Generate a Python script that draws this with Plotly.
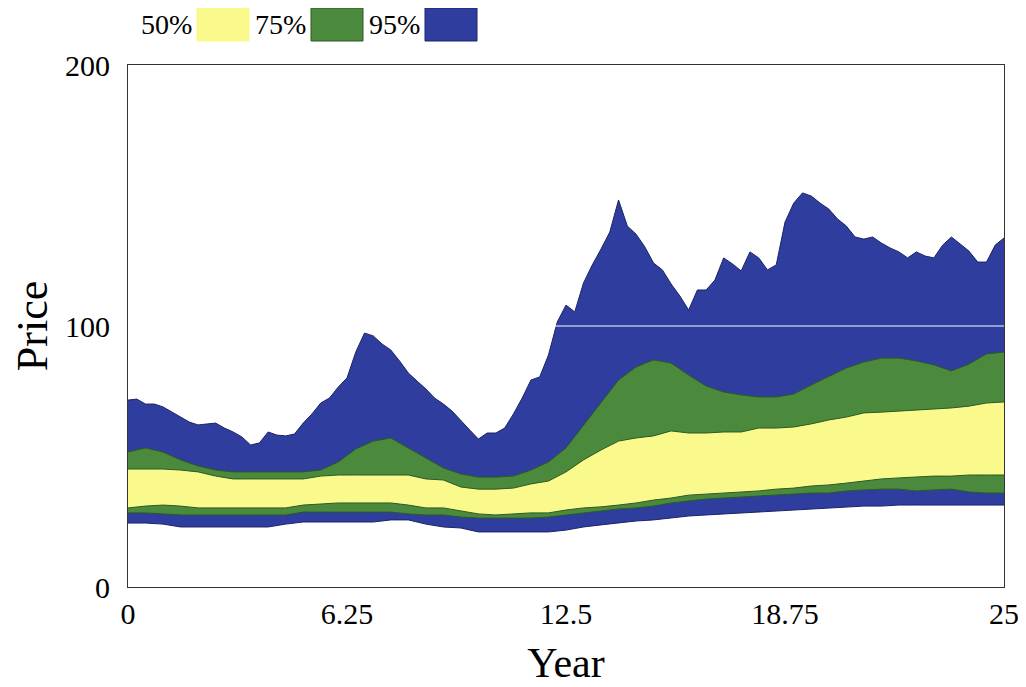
import numpy as np
import plotly.graph_objects as go

# ---------------- data ----------------
years_fine = np.linspace(0, 25, 101)   # quarter-year grid (upper 95% bound)
years = np.linspace(0, 25, 51)         # half-year grid (other bounds)

p95_hi = [71.6, 72.0, 70.1, 70.1, 69.0, 67.0, 65.1, 63.2, 62.1, 62.5,
          62.8, 60.9, 59.4, 57.5, 54.4, 55.2, 59.4, 58.2, 57.9, 58.6,
          62.8, 66.3, 70.5, 72.4, 76.6, 80.1, 90.0, 97.3, 96.2, 93.1,
          90.8, 86.6, 82.0, 78.9, 75.9, 72.4, 70.1, 67.4, 63.6, 60.2,
          56.7, 59.0, 59.0, 60.9, 66.3, 72.4, 79.3, 80.5, 88.9, 101.5,
          108.0, 105.4, 116.5, 123.4, 129.5, 136.0, 148.3, 138.3, 135.2, 130.3,
          124.1, 121.5, 116.1, 111.5, 106.1, 113.8, 113.8, 117.6, 126.1, 123.8,
          121.1, 128.4, 126.1, 121.5, 123.4, 139.8, 147.1, 151.0, 149.8, 147.1,
          144.8, 141.0, 138.3, 134.1, 133.3, 134.1, 131.8, 129.9, 128.4, 126.1,
          128.4, 126.8, 126.1, 131.0, 134.1, 131.4, 128.7, 124.5, 124.5, 131.0, 133.7]

p75_hi = [51.7, 53.3, 51.7, 48.7, 46.4, 44.8, 44.1, 44.1, 44.1, 44.1,
          44.1, 44.8, 47.9, 52.9, 55.9, 57.1, 53.3, 49.4, 45.6, 43.3,
          42.1, 42.1, 42.5, 44.8, 47.9, 53.3, 62.1, 70.5, 79.3, 84.3,
          87.0, 85.8, 81.2, 77.0, 74.7, 73.6, 72.8, 72.8, 73.9, 77.4,
          80.8, 83.9, 86.2, 87.7, 87.7, 86.6, 85.1, 82.8, 85.4, 89.3, 90.0]

p50_hi = [45.2, 45.2, 45.2, 44.8, 44.1, 42.5, 41.4, 41.4, 41.4, 41.4,
          41.4, 42.5, 42.9, 42.9, 42.9, 42.9, 42.9, 41.4, 41.0, 38.3,
          37.5, 37.5, 37.9, 39.5, 40.6, 44.1, 48.7, 52.5, 55.9, 57.1,
          57.9, 59.8, 59.0, 59.0, 59.4, 59.4, 60.9, 60.9, 61.3, 62.5,
          64.0, 65.1, 66.7, 67.0, 67.4, 67.8, 68.2, 68.6, 69.3, 70.5, 70.9]

p50_lo = [30.3, 31.0, 31.4, 31.0, 30.3, 30.3, 30.3, 30.3, 30.3, 30.3,
          31.4, 31.8, 32.2, 32.2, 32.2, 32.2, 31.4, 30.3, 30.3, 29.1,
          28.0, 27.6, 28.0, 28.4, 28.4, 29.5, 30.3, 30.7, 31.4, 32.2,
          33.3, 34.1, 35.2, 35.6, 36.0, 36.4, 36.8, 37.5, 37.9, 38.7,
          39.1, 39.8, 40.6, 41.4, 41.8, 42.1, 42.5, 42.5, 42.9, 42.9, 42.9]

p75_lo = [28.4, 28.4, 28.0, 27.6, 27.6, 27.6, 27.6, 27.6, 27.6, 27.6,
          28.7, 28.7, 28.7, 28.7, 28.7, 28.7, 28.0, 27.6, 27.6, 26.8,
          26.4, 26.4, 26.4, 26.4, 26.8, 27.6, 28.4, 29.1, 29.9, 30.3,
          31.0, 32.2, 33.0, 33.7, 34.1, 34.5, 34.9, 35.2, 35.6, 36.0,
          36.0, 36.8, 37.2, 37.5, 37.5, 36.8, 37.2, 37.5, 36.4, 36.0, 36.0]

p95_lo = [24.5, 24.5, 24.1, 23.0, 23.0, 23.0, 23.0, 23.0, 23.0, 24.1,
          24.9, 24.9, 24.9, 24.9, 24.9, 25.7, 25.7, 24.1, 23.0, 22.6,
          21.1, 21.1, 21.1, 21.1, 21.1, 21.8, 23.0, 23.8, 24.5, 25.3,
          25.7, 26.4, 27.2, 27.6, 28.0, 28.4, 28.7, 29.1, 29.5, 29.9,
          30.3, 30.7, 31.0, 31.0, 31.4, 31.4, 31.4, 31.4, 31.4, 31.4, 31.4]

x_ticks = [0, 6.25, 12.5, 18.75, 25]
x_tick_labels = ["0", "6.25", "12.5", "18.75", "25"]
y_ticks = [0, 100, 200]
y_tick_labels = ["0", "100", "200"]
band_labels = ["50%", "75%", "95%"]

# ---------------- style ----------------
FONT = "Liberation Serif"
BLUE, BLUE_EDGE = "#2f3d9e", "#1c2466"
GREEN, GREEN_EDGE = "#4b8a3c", "#2c5a24"
YELLOW = "#fafa8c"

fig = go.Figure()

def band(x_lo, lo, x_hi, hi, fill, edge, name):
    fig.add_trace(go.Scatter(x=x_lo, y=lo, mode="lines",
                             line=dict(color=edge, width=1),
                             showlegend=False, hoverinfo="skip"))
    fig.add_trace(go.Scatter(x=x_hi, y=hi, mode="lines", fill="tonexty",
                             fillcolor=fill, line=dict(color=edge, width=1),
                             name=name, showlegend=False))

band(years, p95_lo, years_fine, p95_hi, BLUE, BLUE_EDGE, "95%")
band(years, p75_lo, years, p75_hi, GREEN, GREEN_EDGE, "75%")
band(years, p50_lo, years, p50_hi, YELLOW, GREEN_EDGE, "50%")

# page geometry: the page body adds an 8px offset around the figure
OFF = 8
W, H = 1026 - OFF, 687 - OFF
L, R, T, B = 128 - OFF, 22, 65 - OFF, 100
pw, ph = W - L - R, H - T - B

def px_x(p):          # page pixel -> paper x
    return (p - OFF - L) / pw

def px_y(p):          # page pixel -> paper y
    return (H - B - (p - OFF)) / ph

# legend (text followed by colour box)
shapes = []
annotations = []
legend_items = [(band_labels[0], YELLOW, YELLOW, 197),
                (band_labels[1], GREEN, GREEN_EDGE, 311),
                (band_labels[2], BLUE, BLUE_EDGE, 425)]
for label, fillc, edgec, bx in legend_items:
    shapes.append(dict(type="rect", xref="paper", yref="paper",
                       x0=px_x(bx), x1=px_x(bx + 52), y0=px_y(41), y1=px_y(8),
                       fillcolor=fillc, line=dict(color=edgec, width=1),
                       layer="above"))
    annotations.append(dict(xref="paper", yref="paper", x=px_x(bx - 3), y=px_y(24.5),
                            xanchor="right", yanchor="middle", showarrow=False,
                            text=label, font=dict(family=FONT, size=28, color="black")))

# white reference line at 100 drawn over the bands
shapes.append(dict(type="line", xref="paper", x0=0, x1=1, yref="y", y0=100, y1=100,
                   line=dict(color="white", width=1), layer="above"))

fig.update_layout(
    width=W, height=H,
    margin=dict(l=L, r=R, t=T, b=B),
    paper_bgcolor="white", plot_bgcolor="white",
    showlegend=False,
    shapes=shapes, annotations=annotations,
    font=dict(family=FONT, color="black"),
    xaxis=dict(range=[0, 25], tickvals=x_ticks, ticktext=x_tick_labels,
               showgrid=False, zeroline=False, showline=True, mirror=True,
               linecolor="#333333", linewidth=1.2,
               ticks="",
               tickfont=dict(family=FONT, size=30, color="black"),
               title=dict(text="Year", font=dict(family=FONT, size=42, color="black"),
                          standoff=18),
               automargin=False, fixedrange=True),
    yaxis=dict(range=[0, 200], tickvals=y_ticks, ticktext=y_tick_labels,
               showgrid=False, zeroline=False, showline=True, mirror=True,
               linecolor="#333333", linewidth=1.2,
               ticks="outside", ticklen=11, tickcolor="rgba(0,0,0,0)",
               tickfont=dict(family=FONT, size=30, color="black"),
               title=dict(text="Price", font=dict(family=FONT, size=44, color="black"),
                          standoff=12),
               automargin=False, fixedrange=True),
)

fig.write_html("out.html")
